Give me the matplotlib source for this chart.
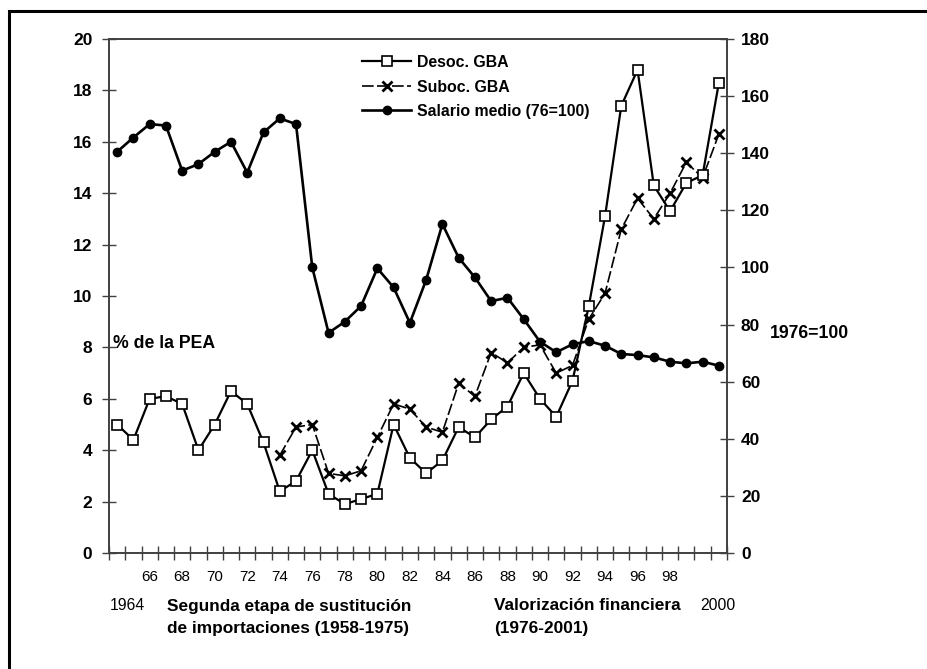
import numpy as np
import matplotlib
matplotlib.use("Agg")
import matplotlib.pyplot as plt
from matplotlib.patches import Rectangle

plt.rcParams['font.family'] = ['Liberation Sans', 'DejaVu Sans']

# años (categorías)
years = list(range(1964, 2002))
years_suboc = list(range(1974, 2002))

# desocupación GBA (% de la PEA)
desoc = [5.0, 4.4, 6.0, 6.1, 5.8, 4.0, 5.0, 6.3, 5.8, 4.3,
         2.4, 2.8, 4.0, 2.3, 1.9, 2.1, 2.3, 5.0, 3.7, 3.1,
         3.6, 4.9, 4.5, 5.2, 5.7, 7.0, 6.0, 5.3, 6.7, 9.6,
         13.1, 17.4, 18.8, 14.3, 13.3, 14.4, 14.7, 18.3]

# subocupación GBA (% de la PEA), desde 1974
suboc = [3.8, 4.9, 5.0, 3.1, 3.0, 3.2, 4.5, 5.8, 5.6, 4.9,
         4.7, 6.6, 6.1, 7.8, 7.4, 8.0, 8.1, 7.0, 7.3, 9.1,
         10.1, 12.6, 13.8, 13.0, 14.0, 15.2, 14.6, 16.3]

# salario medio (1976=100)
salario = [140.5, 145.5, 150.2, 149.7, 133.9, 136.2, 140.5, 144.0, 133.2, 147.3,
           152.2, 150.2, 100.0, 77.1, 81.0, 86.5, 99.7, 93.0, 80.6, 95.6,
           115.2, 103.4, 96.5, 88.2, 89.4, 81.9, 74.0, 70.3, 73.1, 74.2,
           72.6, 69.7, 69.3, 68.5, 67.0, 66.4, 67.0, 65.6]

xtick_labels = ["66", "68", "70", "72", "74", "76", "78", "80", "82",
                "84", "86", "88", "90", "92", "94", "96", "98"]
xtick_years = [1900 + int(s) for s in xtick_labels]

W, H = 928, 669


def fx(x):
    return x / W


def fy(y):
    return 1 - y / H


fig = plt.figure(figsize=(W / 100, H / 100), dpi=100)
ax = fig.add_axes([fx(109), fy(553), fx(727) - fx(109), fy(39) - fy(553)])
ax2 = ax.twinx()

axis_color = "#404040"

l1, = ax.plot(years, desoc, color="black", lw=1.6, marker="s", ms=7.5,
              mfc="white", mec="black", mew=1.2, label="Desoc. GBA", zorder=3)
l2, = ax.plot(years_suboc, suboc, color="black", lw=1.2, dashes=(7, 2),
              marker="x", ms=7.5, mew=2.0, label="Suboc. GBA", zorder=2)
l3, = ax2.plot(years, salario, color="black", lw=1.9, marker="o", ms=6,
               mfc="black", mec="black", label="Salario medio (76=100)")

ax.set_xlim(1963.5, 2001.5)
ax.set_ylim(0, 20)
ax2.set_ylim(0, 180)

# ticks eje x: marcas entre años, etiquetas en años pares
ax.set_xticks(np.arange(1963.5, 2002, 1.0))
ax.set_xticklabels([])
ax.set_xticks(xtick_years, minor=True)
ax.set_xticklabels(xtick_labels, minor=True, fontsize=11)
ax.tick_params(axis="x", which="major", direction="inout", length=10,
               width=1, color=axis_color)
ax.tick_params(axis="x", which="minor", length=0, pad=12)

ax.set_yticks(np.arange(0, 21, 2))
ax.tick_params(axis="y", direction="inout", length=10, width=1,
               color=axis_color, labelsize=12.5, pad=7)
for t in ax.get_yticklabels():
    t.set_fontweight("bold")

ax2.set_yticks(np.arange(0, 181, 20))
ax2.tick_params(axis="y", direction="inout", length=10, width=1,
                color=axis_color, labelsize=12.5, pad=5)
for t in ax2.get_yticklabels():
    t.set_fontweight("bold")

for a in (ax, ax2):
    for side in ("left", "right", "top", "bottom"):
        a.spines[side].set_color(axis_color)
        a.spines[side].set_linewidth(1.2)

# leyenda
ax2.legend(handles=[l1, l2, l3], loc="upper left",
           bbox_to_anchor=(fx(362), fy(55)), bbox_transform=fig.transFigure,
           frameon=False, prop={"weight": "bold", "size": 11.4},
           handlelength=3.1, handletextpad=0.35, labelspacing=0.6,
           borderpad=0, borderaxespad=0)

# textos
fig.text(fx(113), fy(343), "% de la PEA", fontsize=12.7, fontweight="bold",
         va="center", ha="left")
fig.text(fx(770), fy(333), "1976=100", fontsize=12.7, fontweight="bold",
         va="center", ha="left")
fig.text(fx(110), fy(606), "1964", fontsize=11.3, va="center", ha="left")
fig.text(fx(700), fy(606), "2000", fontsize=11.3, va="center", ha="left")
fig.text(fx(167), fy(606), "Segunda etapa de sustitución", fontsize=12.4,
         fontweight="bold", va="center", ha="left")
fig.text(fx(167), fy(629), "de importaciones (1958-1975)", fontsize=12.4,
         fontweight="bold", va="center", ha="left")
fig.text(fx(494), fy(606), "Valorización financiera", fontsize=12.4,
         fontweight="bold", va="center", ha="left")
fig.text(fx(494), fy(629), "(1976-2001)", fontsize=12.4,
         fontweight="bold", va="center", ha="left")

# marco exterior
fig.patches.append(Rectangle((fx(9), -0.2), 1.2, fy(11) + 0.2,
                             transform=fig.transFigure, fill=False,
                             edgecolor="black", lw=2.2))

fig.savefig("out.png", dpi=100)
